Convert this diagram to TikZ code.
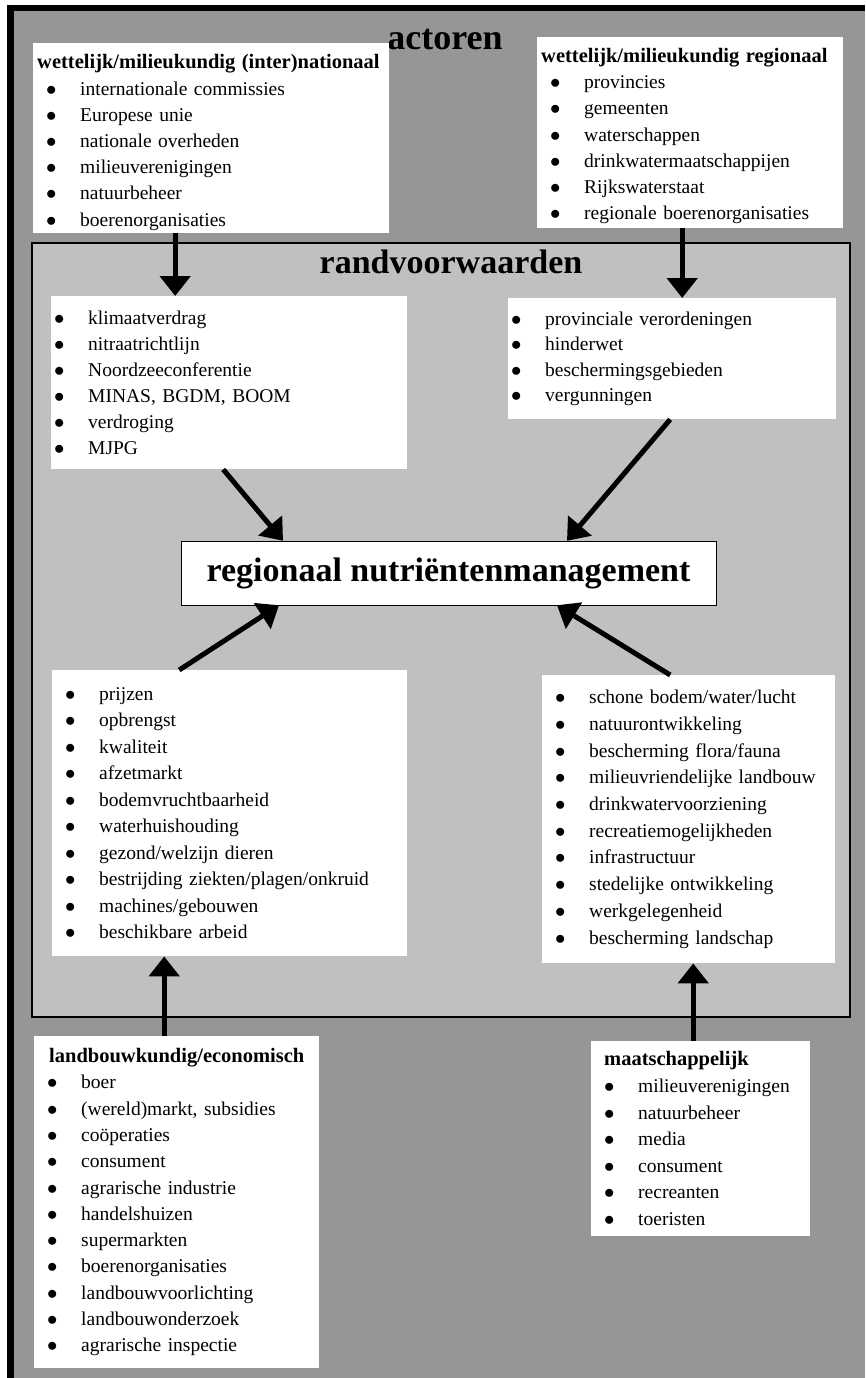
\documentclass[tikz,border=0pt]{standalone}
\usepackage{fontspec}
\setmainfont{Liberation Serif}
\usetikzlibrary{arrows.meta}
\definecolor{buitengrijs}{HTML}{969696}
\definecolor{kadergrijs}{HTML}{C0C0C0}
\newcommand{\bul}[2][10pt]{\hspace*{#1}\makebox[33pt][l]{\hspace*{-1pt}$\bullet$}\mbox{#2}}
\newcommand{\kopje}[2][0pt]{\hspace*{#1}\mbox{\fontsize{20.5}{26}\selectfont\bfseries #2}}
\tikzset{
  vak/.style={rectangle, fill=white, anchor=north west, inner xsep=4pt, inner ysep=0pt, align=left, font=\fontsize{19.5}{#1}\selectfont},
  kop/.style={anchor=base, font=\fontsize{34}{40}\selectfont\bfseries},
  kernvak/.style={rectangle, draw, thin, fill=white, minimum width=535pt, minimum height=64pt, font=\fontsize{34}{40}\selectfont\bfseries},
  pijl/.style={line width=5pt, -{Triangle[length=20pt, width=30pt]}},
}
\begin{document}
\begin{tikzpicture}[x=1pt, y=-1pt]
  \useasboundingbox (0,0) rectangle (865,1378);
  % achtergrond en kaders
  \fill[buitengrijs] (7,5) rectangle (865,1378);
  \draw[line width=6.5pt] (10.25,1378) -- (10.25,8.25) -- (865,8.25);
  \draw[fill=kadergrijs, line width=1.5pt] (32,243) rectangle (850,1017);

  \node[kop, font=\fontsize{36}{40}\selectfont\bfseries] (actoren) at (445,50) {actoren};
  \node[kop] (randvw) at (451,273) {randvoorwaarden};

  % actoren boven
  \node[vak=26.2, text width=348pt, minimum height=190pt] (natbox) at (33,43) {\kopje{\rule{0pt}{23pt}wettelijk/milieukundig (inter)nationaal}\\
    \bul{internationale commissies}\\ \bul{Europese unie}\\ \bul{nationale overheden}\\
    \bul{milieuverenigingen}\\ \bul{natuurbeheer}\\ \bul{boerenorganisaties}};
  \node[vak=26.2, text width=298pt, minimum height=191pt] (regbox) at (537,37) {\kopje{\rule{0pt}{21pt}wettelijk/milieukundig regionaal}\\
    \bul{provincies}\\ \bul{gemeenten}\\ \bul{waterschappen}\\
    \bul{drinkwatermaatschappijen}\\ \bul{Rijkswaterstaat}\\ \bul{regionale boerenorganisaties}};

  % randvoorwaarden
  \node[vak=26, text width=348pt, minimum height=173pt] (kaderlinks) at (51,296) {\bul[0pt]{klimaatverdrag}\\
    \bul[0pt]{nitraatrichtlijn}\\ \bul[0pt]{Noordzeeconferentie}\\ \bul[0pt]{MINAS, BGDM, BOOM}\\
    \bul[0pt]{verdroging}\\ \bul[0pt]{MJPG}};
  \node[vak=25.5, text width=320pt, minimum height=121pt] (kaderrechts) at (508,298) {\bul[0pt]{provinciale verordeningen}\\
    \bul[0pt]{hinderwet}\\ \bul[0pt]{beschermingsgebieden}\\ \bul[0pt]{vergunningen}};

  \node[kernvak] (kern) at (448.5,573) {regionaal nutriëntenmanagement};

  \node[vak=26.5, text width=347pt, minimum height=286pt] (landbouwlinks) at (52,670) {\bul{prijzen}\\
    \bul{opbrengst}\\ \bul{kwaliteit}\\ \bul{afzetmarkt}\\ \bul{bodemvruchtbaarheid}\\
    \bul{waterhuishouding}\\ \bul{gezond/welzijn dieren}\\ \bul{bestrijding ziekten/plagen/onkruid}\\
    \bul{machines/gebouwen}\\ \bul{beschikbare arbeid}};
  \node[vak=26.7, text width=285pt, minimum height=288pt] (maatschrechts) at (542,675) {\bul{schone bodem/water/lucht}\\
    \bul{natuurontwikkeling}\\ \bul{bescherming flora/fauna}\\ \bul{milieuvriendelijke landbouw}\\
    \bul{drinkwatervoorziening}\\ \bul{recreatiemogelijkheden}\\ \bul{infrastructuur}\\
    \bul{stedelijke ontwikkeling}\\ \bul{werkgelegenheid}\\ \bul{bescherming landschap}};

  % actoren onder
  \node[vak=26.3, text width=277pt, minimum height=332pt] (landbouwactoren) at (34,1036) {\kopje[11pt]{landbouwkundig/economisch}\\
    \bul{boer}\\ \bul{(wereld)markt, subsidies}\\ \bul{coöperaties}\\ \bul{consument}\\
    \bul{agrarische industrie}\\ \bul{handelshuizen}\\ \bul{supermarkten}\\ \bul{boerenorganisaties}\\
    \bul{landbouwvoorlichting}\\ \bul{landbouwonderzoek}\\ \bul{agrarische inspectie}};
  \node[vak=26.6, text width=211pt, minimum height=195pt] (maatschactoren) at (591,1041) {\kopje[9pt]{maatschappelijk}\\
    \bul{milieuverenigingen}\\ \bul{natuurbeheer}\\ \bul{media}\\ \bul{consument}\\
    \bul{recreanten}\\ \bul{toeristen}};

  % pijlen
  \draw[pijl] ([xshift=-36pt]natbox.south) -- ([xshift=-54pt]kaderlinks.north);
  \draw[pijl] ([xshift=-8pt]regbox.south) -- ([xshift=10pt]kaderrechts.north);
  \draw[pijl] ([xshift=-6pt]kaderlinks.south) -- ([xshift=-165.5pt]kern.north);
  \draw[pijl] ([xshift=-2pt]kaderrechts.south) -- ([xshift=118.5pt]kern.north);
  \draw[pijl] ([xshift=-50.5pt]landbouwlinks.north) -- ([xshift=-169.5pt]kern.south);
  \draw[pijl] ([xshift=-18.5pt]maatschrechts.north) -- ([xshift=108.5pt]kern.south);
  \draw[pijl] ([xshift=-12.5pt]landbouwactoren.north) -- ([xshift=-65.5pt]landbouwlinks.south);
  \draw[pijl] ([xshift=-7.5pt]maatschactoren.north) -- ([xshift=4.5pt]maatschrechts.south);
\end{tikzpicture}
\end{document}
